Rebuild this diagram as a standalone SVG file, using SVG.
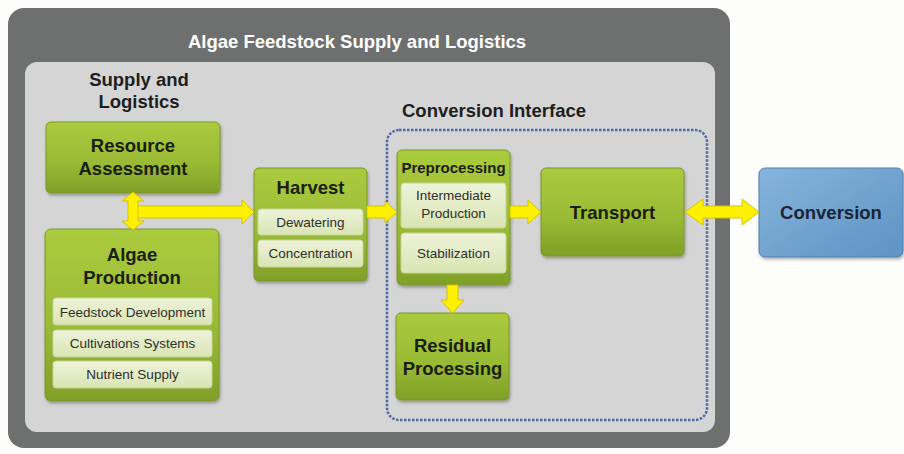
<svg xmlns="http://www.w3.org/2000/svg" width="904" height="454" viewBox="0 0 904 454">
<defs>
<linearGradient id="gGreen" x1="0" y1="0" x2="0" y2="1">
<stop offset="0" stop-color="#abcb3f"/>
<stop offset="0.6" stop-color="#98b934"/>
<stop offset="1" stop-color="#809f29"/>
</linearGradient>
<linearGradient id="gSub" x1="0" y1="0" x2="0" y2="1">
<stop offset="0" stop-color="#eef3da"/>
<stop offset="1" stop-color="#d9e5b3"/>
</linearGradient>
<linearGradient id="gBlue" x1="0" y1="0" x2="1" y2="1">
<stop offset="0" stop-color="#86b4dc"/>
<stop offset="1" stop-color="#5f93c4"/>
</linearGradient>
<filter id="sh" x="-10%" y="-10%" width="130%" height="130%">
<feDropShadow dx="1" dy="2" stdDeviation="1.5" flood-color="#000" flood-opacity="0.3"/>
</filter>
</defs>
<style>
.green{fill:url(#gGreen);stroke:#7a9828;stroke-width:1;filter:url(#sh)}
.sub{fill:url(#gSub);stroke:#c5d59a;stroke-width:1}
.big{font-family:"Liberation Sans",Arial,sans-serif;font-weight:bold;font-size:18.5px;fill:#1a200f;text-anchor:middle}
.small{font-family:"Liberation Sans",Arial,sans-serif;font-size:13.5px;fill:#2e2e2e;text-anchor:middle}
.hdr{font-family:"Liberation Sans",Arial,sans-serif;font-weight:bold;font-size:18.5px;fill:#1e1e1e;text-anchor:middle}
.arrow{fill:#fdf000;stroke:#d6c300;stroke-width:1;stroke-linejoin:round}
</style>
<rect width="904" height="454" fill="#fdfdfb"/>
<g id="frame">
<rect x="8" y="8" width="722" height="440" rx="16" fill="#6e6f6f"/>
<rect x="25" y="62" width="690" height="370" rx="12" fill="#d5d5d5"/>
<text x="357" y="48" font-family="Liberation Sans, Arial, sans-serif" font-weight="bold" font-size="18.5" fill="#ffffff" text-anchor="middle">Algae Feedstock Supply and Logistics</text>
<text class="hdr" x="139" y="86">Supply and</text>
<text class="hdr" x="139" y="108">Logistics</text>
</g>
<g id="conversion-interface">
<rect x="387" y="130" width="320" height="290" rx="12" fill="none" stroke="#4a6aa8" stroke-width="2.5" stroke-dasharray="2.5 1.5"/>
<text class="hdr" x="494" y="117">Conversion Interface</text>
</g>
<g id="resource-assessment">
<rect class="green" x="46" y="122" width="174" height="71" rx="5"/>
<text class="big" x="133" y="152">Resource</text>
<text class="big" x="133" y="175">Assessment</text>
</g>
<g id="algae-production">
<rect class="green" x="45" y="229" width="174" height="172" rx="6"/>
<text class="big" x="132" y="261">Algae</text>
<text class="big" x="132" y="284">Production</text>
<rect class="sub" x="53" y="298" width="159" height="27" rx="3"/>
<text class="small" x="132.5" y="317">Feedstock Development</text>
<rect class="sub" x="53" y="330" width="159" height="27" rx="3"/>
<text class="small" x="132.5" y="348">Cultivations Systems</text>
<rect class="sub" x="53" y="361" width="159" height="27" rx="3"/>
<text class="small" x="132.5" y="379">Nutrient Supply</text>
</g>
<g id="harvest">
<rect class="green" x="254" y="168" width="113" height="113" rx="5"/>
<text class="big" x="310.5" y="194">Harvest</text>
<rect class="sub" x="258" y="209" width="105" height="26" rx="3"/>
<text class="small" x="310.5" y="227">Dewatering</text>
<rect class="sub" x="258" y="240" width="105" height="27" rx="3"/>
<text class="small" x="310.5" y="258">Concentration</text>
</g>
<g id="preprocessing">
<rect class="green" x="397" y="150" width="113" height="135" rx="5"/>
<text class="big" x="453.5" y="173" style="font-size:15px">Preprocessing</text>
<rect class="sub" x="401" y="183" width="105" height="45" rx="3"/>
<text class="small" x="453.5" y="200">Intermediate</text>
<text class="small" x="453.5" y="218">Production</text>
<rect class="sub" x="401" y="233" width="105" height="40" rx="3"/>
<text class="small" x="453.5" y="258">Stabilization</text>
</g>
<g id="residual-processing">
<rect class="green" x="396" y="313" width="113" height="87" rx="5"/>
<text class="big" x="452.5" y="352">Residual</text>
<text class="big" x="452.5" y="375">Processing</text>
</g>
<g id="transport">
<rect class="green" x="541" y="168" width="143" height="88" rx="5"/>
<text class="big" x="612.5" y="219">Transport</text>
</g>
<g id="conversion">
<rect x="759" y="168" width="144" height="89" rx="6" fill="url(#gBlue)" stroke="#4f80b0" stroke-width="1" filter="url(#sh)"/>
<text class="big" x="831" y="219" style="fill:#1a2433">Conversion</text>
</g>
<g id="connectors">
<polygon class="arrow" points="133,206 242,206 242,200 254,212 242,224 242,218 133,218"/>
<polygon class="arrow" points="133,192 144,201 138,201 138,221 144,221 133,230 122,221 128,221 128,201 122,201"/>
<polygon class="arrow" points="367,206 385,206 385,201 397,212 385,223 385,218 367,218"/>
<polygon class="arrow" points="510,206 528,206 528,200 541,212 528,224 528,218 510,218"/>
<polygon class="arrow" points="447,285 458,285 458,300 464,300 452.5,313 441,300 447,300"/>
<polygon class="arrow" points="685,212 703,199 703,206 742,206 742,199 759,212 742,225 742,218 703,218 703,225"/>
</g>
</svg>
